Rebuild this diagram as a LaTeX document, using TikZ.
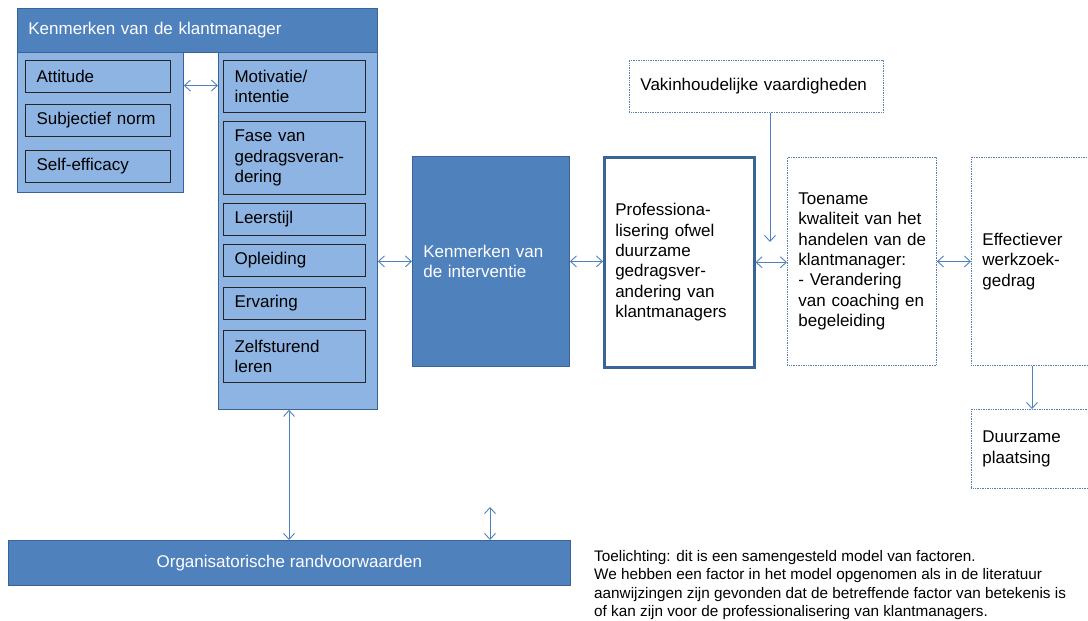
\documentclass[tikz,border=0pt]{standalone}
\usepackage{fontspec}
\setmainfont{Liberation Sans}
\usetikzlibrary{arrows.meta}
\definecolor{accent}{HTML}{4F81BD}
\definecolor{accentdk}{HTML}{3A6496}
\definecolor{panel}{HTML}{8DB4E2}
\definecolor{arrowc}{HTML}{4F81BD}
\definecolor{boxline}{HTML}{262626}
\definecolor{dotline}{HTML}{5A7FAE}

\begin{document}
\begin{tikzpicture}[x=1pt,y=-1pt,
  >={Straight Barb[length=6pt,width=11pt]},
  every node/.style={font=\fontsize{17}{20.3}\selectfont},
  cell/.style n args={3}{anchor=north west, minimum width=#1, minimum height=#2,
    text width=#3, inner xsep=11pt, inner ysep=0pt, align=left},
  panelbox/.style={draw=accentdk, line width=0.8pt, fill=panel},
  headbox/.style={draw=accentdk, line width=0.8pt, fill=accent, text=white},
  itembox/.style={draw=boxline, line width=1.1pt, fill=panel},
  dotbox/.style={draw=dotline, line width=0.9pt, dash pattern=on 1pt off 0.7pt, fill=white},
  keybox/.style={draw=accentdk, line width=2.5pt, fill=white},
  con/.style={draw=arrowc, line width=0.9pt}
]
\useasboundingbox (0,0) rectangle (1088,621);
\clip (0,0) rectangle (1088,621);

% characteristics of the client manager
\node[panelbox, cell={166}{140}{144pt}] (lp) at (17,52) {};
\node[panelbox, cell={159}{357}{137pt}] (rp) at (218,52) {};
\node[headbox, cell={360}{44}{338pt}] (head) at (17,8) {Kenmerken van de klantmanager};

\node[itembox, cell={145}{32}{123pt}] (att)  at (25,60)  {Attitude};
\node[itembox, cell={145}{32}{123pt}] (sub)  at (25,104) {Subjectief norm};
\node[itembox, cell={145}{32}{123pt}] (self) at (25,150) {Self-efficacy};

\node[itembox, cell={142}{52}{120pt}] (mot)  at (223,60)  {Motivatie/\\intentie};
\node[itembox, cell={142}{73}{120pt}] (fase) at (223,121) {Fase van\\gedragsveran-\\dering};
\node[itembox, cell={142}{32}{120pt}] (leer) at (223,203) {Leerstijl};
\node[itembox, cell={142}{32}{120pt}] (opl)  at (223,244) {Opleiding};
\node[itembox, cell={142}{32}{120pt}] (erv)  at (223,287) {Ervaring};
\node[itembox, cell={142}{52}{120pt}] (zelf) at (223,330) {Zelfsturend\\leren};

% main chain
\node[headbox, cell={157}{210}{135pt}] (int) at (412,156) {Kenmerken van\\de interventie};
\node[keybox, cell={150}{210}{128pt}] (prof) at (603,156)
  {Professiona-\\lisering ofwel\\duurzame\\gedragsver-\\andering van\\klantmanagers};
\node[dotbox, cell={149}{208}{127pt}] (toe) at (787,157)
  {Toename\\kwaliteit~van~het\\handelen~van~de\\klantmanager:\\- Verandering\\van~coaching~en\\begeleiding};
\node[dotbox, cell={140}{208}{118pt}] (eff) at (971,157) {Effectiever\\werkzoek-\\gedrag};
\node[dotbox, cell={140}{79}{118pt}] (dur) at (971,409) {Duurzame\\plaatsing};
\node[dotbox, cell={254}{52}{232pt}] (vak) at (629,60) {Vakinhoudelijke vaardigheden};

% organisational conditions
\node[headbox, anchor=north west, minimum width=562, minimum height=45, inner sep=0pt,
  align=center] (org) at (8,540) {};
\node[text=white] (orgtxt) at (org.center) {Organisatorische randvoorwaarden};

% explanatory note
\node[anchor=north west, align=left, inner sep=0pt,
  font=\fontsize{15.3}{18.4}\selectfont] (note) at (594,550)
  {Toelichting: dit is een samengesteld model van factoren.\\
   We hebben een factor in het model opgenomen als in de literatuur\\
   aanwijzingen zijn gevonden dat de betreffende factor van betekenis is\\
   of kan zijn voor de professionalisering van klantmanagers.};

% connectors
\coordinate (ay) at ([yshift=-9pt]att.east);
\draw[con,<->] (lp.east |- ay) -- (rp.west |- ay);
\draw[con,<->] (rp.east |- int.west) -- (int.west);
\draw[con,<->] (int.east) -- (prof.west |- int.east);
\draw[con,<->] (prof.east) -- (toe.west |- prof.east);
\draw[con,<->] (toe.east) -- (eff.west |- toe.east);
\coordinate (vakend) at (770,242);
\draw[con,->] (vak.south -| vakend) -- (vakend);
\coordinate (effdown) at (1032,0);
\draw[con,->] (eff.south -| effdown) -- (dur.north -| effdown);
\coordinate (rpx) at (289,0);
\draw[con,<->] (rp.south -| rpx) -- (org.north -| rpx);
\coordinate (orgtop) at (490,507);
\draw[con,<->] (orgtop) -- (org.north -| orgtop);
\end{tikzpicture}
\end{document}
